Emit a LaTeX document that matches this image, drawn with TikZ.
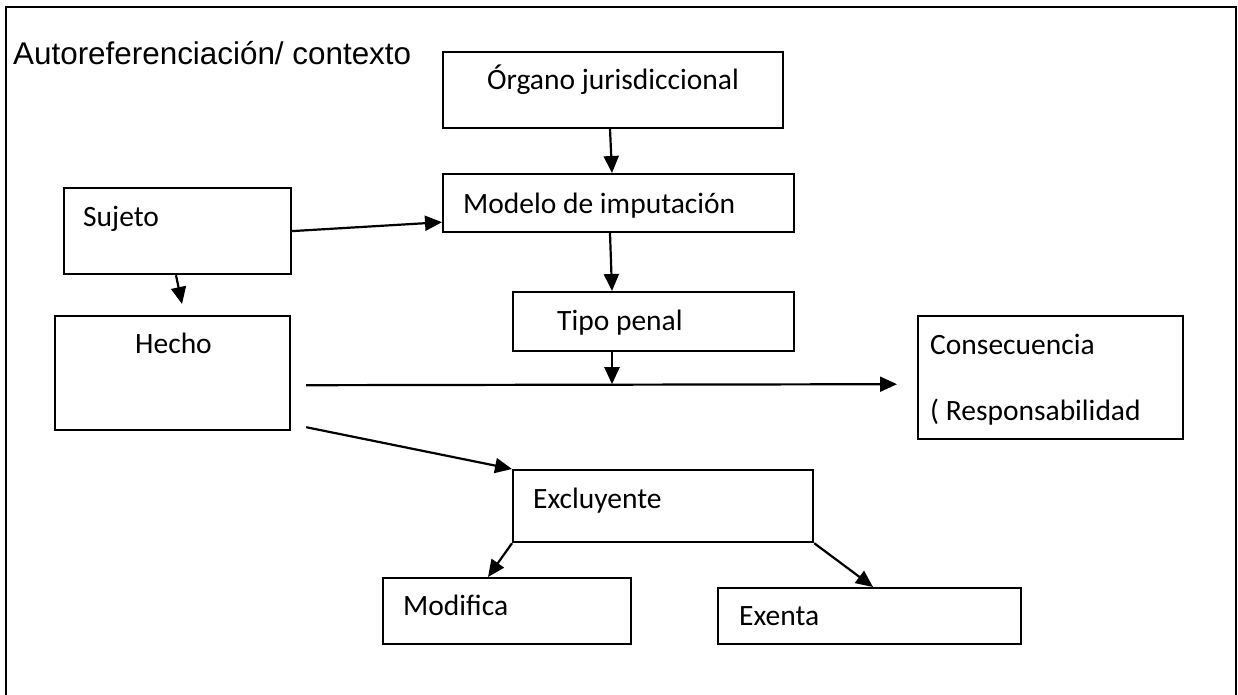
\documentclass[tikz,border=0pt]{standalone}
\usepackage{fontspec}
\setmainfont{Carlito}
\newfontfamily\headfont{Liberation Sans}
\usetikzlibrary{arrows.meta,calc}
\begin{document}
\begin{tikzpicture}[x=1pt,y=-1pt,
  box/.style={draw, line width=2.2pt, inner sep=0pt, anchor=north west},
  lbl/.style={inner sep=0pt, anchor=base west, font=\fontsize{29.5}{34}\selectfont},
  arr/.style={-{Triangle[length=17pt,width=15pt]}, line width=2.2pt}]
\useasboundingbox (0,0) rectangle (1238,695);
\clip (0,0) rectangle (1238,695);
% outer frame
\draw[line width=2.2pt] (6,7) rectangle (1236,705);
\node[inner sep=0pt, anchor=base west, font=\headfont\fontsize{31.4}{36}\selectfont] (title) at (13,65) {Autoreferenciación/ contexto};

% boxes
\node[box, minimum width=340pt, minimum height=76pt] (organo) at (442,51) {};
\node[box, minimum width=351pt, minimum height=58pt] (modelo) at (442,173) {};
\node[box, minimum width=227pt, minimum height=86pt] (sujeto) at (63,187) {};
\node[box, minimum width=235pt, minimum height=114pt] (hecho) at (54,315) {};
\node[box, minimum width=281pt, minimum height=59pt] (tipo) at (512,291) {};
\node[box, minimum width=265pt, minimum height=123pt] (conse) at (917,315) {};
\node[box, minimum width=300pt, minimum height=72pt] (exclu) at (512,469) {};
\node[box, minimum width=248pt, minimum height=66pt] (modif) at (382,577) {};
\node[box, minimum width=303pt, minimum height=56pt] (exenta) at (717,587) {};

% labels
\node[lbl] (tOrgano) at (487,90) {Órgano jurisdiccional};
\node[lbl] (tModelo) at (463,213) {Modelo de imputación};
\node[lbl] (tSujeto) at (83,226) {Sujeto};
\node[lbl] (tHecho) at (135,353) {Hecho};
\node[lbl] (tTipo) at (557,330) {Tipo penal};
\node[lbl] (tConse) at (930,354) {Consecuencia};
\node[lbl] (tResp) at (930,420) {( Responsabilidad};
\node[lbl] (tExclu) at (533,508) {Excluyente};
\node[lbl] (tModif) at (403,615) {Modifica};
\node[lbl] (tExenta) at (739,625) {Exenta};

% connectors
\draw[arr] ($(organo.south west)+(168,0)$) -- ($(modelo.north west)+(170,0)$);
\draw[arr] ($(modelo.south west)+(168,0)$) -- ($(tipo.north west)+(100,0)$);
\draw[arr] (sujeto.east) -- ($(modelo.south west)+(0,-11)$);
\draw[arr] ($(sujeto.south west)+(113,0)$) -- ($(hecho.north west)+(128,-11)$);
\draw[arr] ($(hecho.south east)+(15,-46)$) -- ($(conse.south west)+(-20,-56)$);
\coordinate (join) at ($(tipo.south west)+(100,32)$);
\draw[arr] ($(tipo.south west)+(100,0)$) -- (join);
\draw[arr] ($(hecho.south east)+(15,-4)$) -- (exclu.north west);
\draw[arr] (exclu.south west) -- ($(modif.north west)+(106,0)$);
\draw[arr] (exclu.south east) -- ($(exenta.north west)+(156,0)$);
\end{tikzpicture}
\end{document}
